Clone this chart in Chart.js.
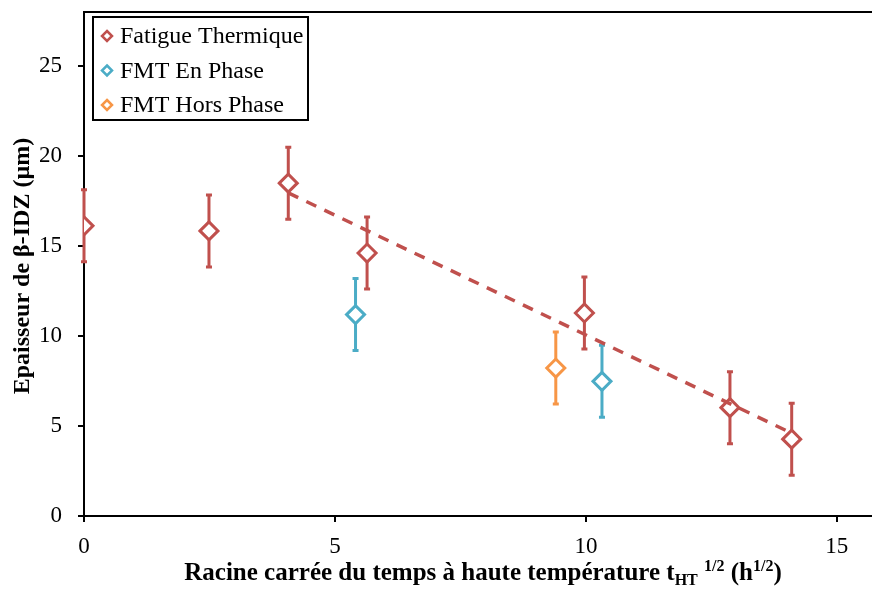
<!DOCTYPE html>
<html>
<head>
<meta charset="utf-8">
<script src="https://cdn.jsdelivr.net/npm/chart.js@4.4.0/dist/chart.umd.min.js"></script>
<style>
  html, body { margin: 0; padding: 0; background: #fff; overflow: hidden; width: 872px; height: 589px; }
  canvas { display: block; }
</style>
</head>
<body>
<!-- the plot runs off the right edge, so the canvas is a little wider than the page -->
<canvas id="idzChart" width="884" height="589"></canvas>
<script>
// ─── Data ─────────────────────────────────────────────────
const thermX   = [0, 2.49, 4.07, 5.64, 9.97, 12.87, 14.1];
const thermY   = [16.12, 15.84, 18.49, 14.61, 11.28, 6.02, 4.27];
const thermErr = [2, 2, 2, 2, 2, 2, 2];

const inPhaseX   = [5.41, 10.32];
const inPhaseY   = [11.19, 7.48];
const inPhaseErr = [2, 2];

const outPhaseX   = [9.40];
const outPhaseY   = [8.22];
const outPhaseErr = [2];

// linear trend over the thermal fatigue points from x ≈ 4
const trendX = [4.07, 14.1];
const trendY = [17.95, 4.6];

const xTicks = [0, 5, 10, 15];
const yTicks = [0, 5, 10, 15, 20, 25];

const seriesLabels = ['Fatigue Thermique', 'FMT En Phase', 'FMT Hors Phase'];
const RED = '#C0504D', BLUE = '#4BACC6', ORANGE = '#F79646';

const FONT = '"Liberation Serif", "DejaVu Serif", serif';

const toPoints = (xs, ys) => xs.map((x, i) => ({ x, y: ys[i] }));

function markerSet(label, xs, ys, errs, color) {
  return {
    label,
    data: toPoints(xs, ys),
    errors: errs,
    borderColor: color,
    backgroundColor: '#fff',
    pointStyle: 'rectRot',
    pointRadius: 9,
    pointHoverRadius: 9,
    pointBorderWidth: 3,
    showLine: false,
    order: 1,
  };
}

// ─── Error bars (under the markers) ───────────────────────
const errorBars = {
  id: 'errorBars',
  beforeDatasetsDraw(chart) {
    const { ctx, scales: { x, y } } = chart;
    ctx.save();
    ctx.lineWidth = 3;
    chart.data.datasets.forEach(ds => {
      if (!ds.errors) return;
      ctx.strokeStyle = ds.borderColor;
      ds.data.forEach((p, i) => {
        const px = x.getPixelForValue(p.x);
        const top = y.getPixelForValue(p.y + ds.errors[i]);
        const bot = y.getPixelForValue(p.y - ds.errors[i]);
        ctx.beginPath();
        ctx.moveTo(px, top); ctx.lineTo(px, bot);
        ctx.moveTo(px - 3, top); ctx.lineTo(px + 3, top);
        ctx.moveTo(px - 3, bot); ctx.lineTo(px + 3, bot);
        ctx.stroke();
      });
    });
    ctx.restore();
  }
};

// ─── Frame, legend box, axis titles ───────────────────────
function diamond(ctx, cx, cy, r) {
  ctx.beginPath();
  ctx.moveTo(cx, cy - r); ctx.lineTo(cx + r, cy);
  ctx.lineTo(cx, cy + r); ctx.lineTo(cx - r, cy);
  ctx.closePath();
}

const decorations = {
  id: 'decorations',
  afterDraw(chart) {
    const { ctx, chartArea: a } = chart;
    ctx.save();

    // top edge of the plot frame
    ctx.strokeStyle = '#000';
    ctx.lineWidth = 2;
    ctx.beginPath();
    ctx.moveTo(a.left, a.top); ctx.lineTo(a.right, a.top);
    ctx.stroke();

    // legend
    const lx = a.left + 9, ly = a.top + 5, lw = 215, lh = 103;
    ctx.fillStyle = '#fff';
    ctx.fillRect(lx, ly, lw, lh);
    ctx.strokeRect(lx, ly, lw, lh);
    ctx.font = `24px ${FONT}`;
    ctx.textBaseline = 'middle';
    ctx.textAlign = 'left';
    chart.data.datasets.filter(d => d.errors).forEach((ds, i) => {
      const cy = ly + 19 + i * 34.5;
      diamond(ctx, lx + 14, cy, 5);
      ctx.fillStyle = '#fff';
      ctx.fill();
      ctx.lineWidth = 2.5;
      ctx.strokeStyle = ds.borderColor;
      ctx.stroke();
      ctx.fillStyle = '#000';
      ctx.fillText(ds.label, lx + 27, cy + 1);
    });

    // y title
    ctx.fillStyle = '#000';
    ctx.font = `bold 24px ${FONT}`;
    ctx.save();
    ctx.translate(23, (a.top + a.bottom) / 2 + 2);
    ctx.rotate(-Math.PI / 2);
    ctx.textAlign = 'center';
    ctx.textBaseline = 'middle';
    ctx.fillText('Epaisseur de β-IDZ (µm)', 0, 0);
    ctx.restore();

    // x title with sub/superscripts
    const big = `bold 25px ${FONT}`, small = `bold 16px ${FONT}`;
    const parts = [
      { t: 'Racine carrée du temps à haute température t', f: big, dy: 0 },
      { t: 'HT', f: small, dy: 5 },
      { t: ' ', f: big, dy: 0 },
      { t: '1/2', f: small, dy: -9 },
      { t: ' (h', f: big, dy: 0 },
      { t: '1/2', f: small, dy: -9 },
      { t: ')', f: big, dy: 0 },
    ];
    let total = 0;
    parts.forEach(p => { ctx.font = p.f; p.w = ctx.measureText(p.t).width; total += p.w; });
    let cx = 483 - total / 2;
    const by = 580;
    ctx.textAlign = 'left';
    ctx.textBaseline = 'alphabetic';
    parts.forEach(p => {
      ctx.font = p.f;
      ctx.fillText(p.t, cx, by + p.dy);
      cx += p.w;
    });

    ctx.restore();
  }
};

// ─── Chart ────────────────────────────────────────────────
const axisCommon = {
  type: 'linear',
  grid: { drawOnChartArea: false, drawTicks: true, tickLength: 6, color: '#000', lineWidth: 2 },
  border: { color: '#000', width: 2 },
  ticks: { color: '#000', font: { family: FONT, size: 23 } },
};

new Chart(document.getElementById('idzChart'), {
  type: 'scatter',
  data: {
    datasets: [
      {
        label: 'Tendance',
        data: toPoints(trendX, trendY),
        type: 'line',
        borderColor: RED,
        borderWidth: 3.5,
        borderDash: [11, 9],
        pointRadius: 0,
        pointHoverRadius: 0,
        fill: false,
        order: 0,
      },
      markerSet(seriesLabels[0], thermX, thermY, thermErr, RED),
      markerSet(seriesLabels[1], inPhaseX, inPhaseY, inPhaseErr, BLUE),
      markerSet(seriesLabels[2], outPhaseX, outPhaseY, outPhaseErr, ORANGE),
    ],
  },
  options: {
    responsive: false,
    animation: false,
    layout: { padding: { top: 11, right: 0, left: 0, bottom: 0 } },
    plugins: { legend: { display: false }, tooltip: { enabled: false } },
    events: [],
    scales: {
      x: {
        ...axisCommon,
        min: 0, max: 15.7,
        ticks: { ...axisCommon.ticks, padding: 11 },
        afterBuildTicks: s => { s.ticks = xTicks.map(v => ({ value: v })); },
        afterFit: s => { s.height = 73; },
      },
      y: {
        ...axisCommon,
        min: 0, max: 28,
        ticks: { ...axisCommon.ticks, padding: 16 },
        afterBuildTicks: s => { s.ticks = yTicks.map(v => ({ value: v })); },
        afterFit: s => { s.width = 84; s.paddingTop = 0; s.paddingBottom = 0; },
      },
    },
  },
  plugins: [errorBars, decorations],
});
</script>
</body>
</html>
